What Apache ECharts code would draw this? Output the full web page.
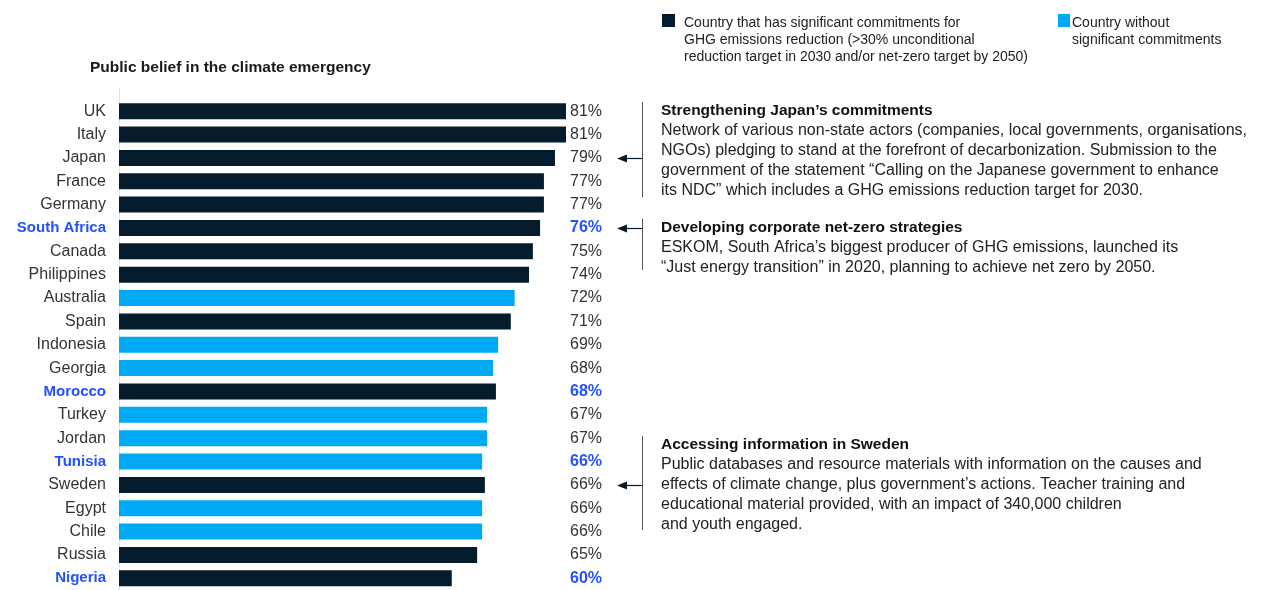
<!DOCTYPE html>
<html>
<head>
<meta charset="utf-8">
<script src="https://cdn.jsdelivr.net/npm/echarts@6/dist/echarts.min.js"></script>
<style>
  html, body { margin: 0; padding: 0; background: #fff; }
  #chart { width: 1263px; height: 590px; }
</style>
</head>
<body>
<div id="chart"></div>
<script>
// countries, top to bottom
const countries = ['UK', 'Italy', 'Japan', 'France', 'Germany', 'South Africa', 'Canada', 'Philippines',
  'Australia', 'Spain', 'Indonesia', 'Georgia', 'Morocco', 'Turkey', 'Jordan', 'Tunisia', 'Sweden',
  'Egypt', 'Chile', 'Russia', 'Nigeria'];
// share of people who believe in the climate emergency, %
const belief = [81, 81, 79, 77, 77, 76.3, 75, 74.3, 71.7, 71, 68.7, 67.8, 68.3, 66.7, 66.7, 65.8, 66.3,
  65.8, 65.8, 64.9, 60.3];
// true = significant GHG commitments
const committed = [true, true, true, true, true, true, true, true, false, true, false, false, true,
  false, false, false, true, false, false, true, true];
const highlighted = ['South Africa', 'Morocco', 'Tunisia', 'Nigeria'];
const pctLabels = belief.map(v => Math.round(v) + '%');

const NAVY = '#051c2c';
const CYAN = '#00a9f4';
const BLUE = '#2251ff';
const FONT = '"Liberation Sans", Arial, sans-serif';

const legendNames = [
  'Country that has significant commitments for\nGHG emissions reduction (>30% unconditional\nreduction target in 2030 and/or net-zero target by 2050)',
  'Country without\nsignificant commitments'
];

const notes = [
  {
    row: 'Japan', top: 101, lineTop: 102, lineBottom: 197,
    title: 'Strengthening Japan’s commitments',
    body: 'Network of various non-state actors (companies, local governments, organisations,\nNGOs) pledging to stand at the forefront of decarbonization. Submission to the\ngovernment of the statement “Calling on the Japanese government to enhance\nits NDC” which includes a GHG emissions reduction target for 2030.'
  },
  {
    row: 'South Africa', top: 218, lineTop: 219, lineBottom: 270,
    title: 'Developing corporate net-zero strategies',
    body: 'ESKOM, South Africa’s biggest producer of GHG emissions, launched its\n“Just energy transition” in 2020, planning to achieve net zero by 2050.'
  },
  {
    row: 'Sweden', top: 435, lineTop: 436, lineBottom: 530,
    title: 'Accessing information in Sweden',
    body: 'Public databases and resource materials with information on the causes and\neffects of climate change, plus government’s actions. Teacher training and\neducational material provided, with an impact of 340,000 children\nand youth engaged.'
  }
];

const isHi = name => highlighted.includes(name);
const labelRich = {
  n: { fontFamily: FONT, fontSize: 16, color: '#333' },
  h: { fontFamily: FONT, fontSize: 15, color: BLUE, fontWeight: 'bold' }
};

const chart = echarts.init(document.getElementById('chart'), null, { renderer: 'canvas' });

const option = {
  animation: false,
  textStyle: { fontFamily: FONT },
  grid: { left: 119, right: 697, top: 99.5, height: 491 },
  xAxis: { type: 'value', min: 0, max: 81, show: false },
  yAxis: [
    {
      type: 'category', data: countries, inverse: true,
      axisLine: { show: true, lineStyle: { color: '#e2e2e2', width: 1 } },
      axisTick: { show: false },
      axisLabel: {
        margin: 13,
        formatter: v => isHi(v) ? '{h|' + v + '}' : '{n|' + v + '}',
        rich: labelRich
      }
    },
    {
      type: 'category', data: pctLabels, inverse: true, position: 'right',
      axisLine: { show: false }, axisTick: { show: false },
      axisLabel: {
        margin: 4, align: 'left',
        formatter: (v, i) => isHi(countries[i]) ? '{h|' + v + '}' : '{n|' + v + '}',
        rich: {
          n: { fontFamily: FONT, fontSize: 16, color: '#333' },
          h: { fontFamily: FONT, fontSize: 16, color: BLUE, fontWeight: 'bold' }
        }
      }
    }
  ],
  series: [
    {
      name: legendNames[0], type: 'bar', barWidth: 16, barGap: '-100%',
      itemStyle: { color: NAVY },
      data: belief.map((v, i) => committed[i] ? v : '-')
    },
    {
      name: legendNames[1], type: 'bar', barWidth: 16, barGap: '-100%',
      itemStyle: { color: CYAN },
      data: belief.map((v, i) => committed[i] ? '-' : v)
    }
  ]
};

chart.setOption(option);

// title, legend, axis extension and annotations
const graphics = [
  {
    type: 'text', left: 90, top: 60,
    style: { text: 'Public belief in the climate emergency', font: 'bold 15.5px ' + FONT, fill: '#1a1a1a' }
  },
  { type: 'line', shape: { x1: 119.5, y1: 88, x2: 119.5, y2: 100 }, style: { stroke: '#e2e2e2', lineWidth: 1 } },
  { type: 'rect', shape: { x: 662, y: 14, width: 13, height: 13 }, style: { fill: NAVY } },
  {
    type: 'text', x: 684, y: 15,
    style: { text: legendNames[0], font: '14px ' + FONT, fill: '#222', lineHeight: 17 }
  },
  { type: 'rect', shape: { x: 1058, y: 14, width: 12, height: 13 }, style: { fill: CYAN } },
  {
    type: 'text', x: 1072, y: 15,
    style: { text: legendNames[1], font: '14px ' + FONT, fill: '#222', lineHeight: 17 }
  }
];

notes.forEach(n => {
  const y = Math.round(chart.convertToPixel({ yAxisIndex: 0 }, n.row)) + 0.5;
  graphics.push(
    { type: 'line', shape: { x1: 642.5, y1: n.lineTop, x2: 642.5, y2: n.lineBottom }, style: { stroke: '#555', lineWidth: 1 } },
    { type: 'line', shape: { x1: 625, y1: y, x2: 642, y2: y }, style: { stroke: NAVY, lineWidth: 1.2 } },
    { type: 'polygon', shape: { points: [[617, y], [627, y - 4], [627, y + 4]] }, style: { fill: NAVY } },
    {
      type: 'text', x: 661, y: n.top,
      style: {
        text: '{t|' + n.title + '}\n{b|' + n.body.split('\n').join('}\n{b|') + '}',
        rich: {
          t: { font: 'bold 15.5px ' + FONT, fill: '#111', lineHeight: 20 },
          b: { font: '16px ' + FONT, fill: '#222', lineHeight: 20 }
        }
      }
    }
  );
});

chart.setOption({ graphic: graphics });
window.addEventListener('resize', () => chart.resize());
</script>
</body>
</html>
